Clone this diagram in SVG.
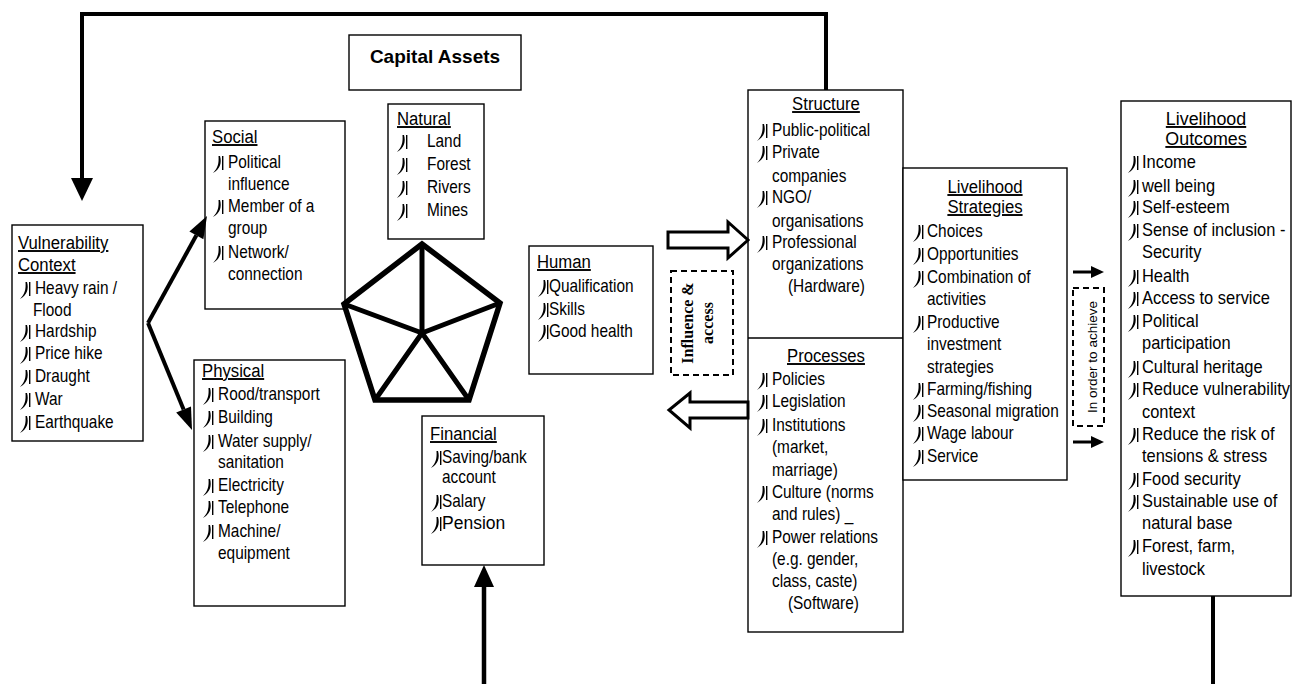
<svg xmlns="http://www.w3.org/2000/svg" width="1294" height="684" viewBox="0 0 1294 684">
<style>
.t{font-family:"Liberation Sans",Arial,sans-serif;font-size:17.5px;fill:#000}
.h{font-size:19px;text-decoration:underline}
.m{text-anchor:middle}
.box{fill:#fff;stroke:#000;stroke-width:1.4}
.dash{fill:#fff;stroke:#000;stroke-width:2;stroke-dasharray:6 4}
.ln{stroke:#000;stroke-width:4;fill:none}
.hol{fill:#fff;stroke:#000;stroke-width:3;stroke-linejoin:miter}
</style>
<defs>
<g id="bl"><path d="M7,-12 C9,-5 7,1 0,5 C5,0 6,-5 5.5,-12 Z" fill="#000"/><rect x="9" y="-12" width="1.4" height="14" fill="#000"/></g>
</defs>

<g id="capital-assets">
<rect class="box" x="349" y="35" width="172" height="55"/>
<text class="t m" x="435" y="63" style="font-weight:bold;font-size:19px">Capital Assets</text>
</g>

<g id="vulnerability">
<rect class="box" x="12" y="225" width="131" height="216"/>
<use href="#bl" x="20" y="294"/><use href="#bl" x="20" y="337"/><use href="#bl" x="20" y="359"/><use href="#bl" x="20" y="382"/><use href="#bl" x="20" y="405"/><use href="#bl" x="20" y="428"/>
<g class="t" transform="translate(18,0) scale(0.88,1)">
<text class="h" x="0" y="249">Vulnerability</text>
<text class="h" x="0" y="271">Context</text>
<text x="19.3" y="294">Heavy rain /</text>
<text x="17" y="316">Flood</text>
<text x="19.3" y="337">Hardship</text>
<text x="19.3" y="359">Price hike</text>
<text x="19.3" y="382">Draught</text>
<text x="19.3" y="405">War</text>
<text x="19.3" y="428">Earthquake</text>
</g>
</g>

<g id="social">
<rect class="box" x="205" y="121" width="140" height="188"/>
<use href="#bl" x="213" y="168"/><use href="#bl" x="213" y="212"/><use href="#bl" x="213" y="258"/>
<g class="t" transform="translate(212,0) scale(0.88,1)">
<text class="h" x="0" y="143">Social</text>
<text x="18.2" y="168">Political</text>
<text x="18.2" y="190">influence</text>
<text x="18.2" y="212">Member of a</text>
<text x="18.2" y="234">group</text>
<text x="18.2" y="258">Network/</text>
<text x="18.2" y="280">connection</text>
</g>
</g>

<g id="physical">
<rect class="box" x="194" y="360" width="151" height="246"/>
<use href="#bl" x="203" y="400"/><use href="#bl" x="203" y="423"/><use href="#bl" x="203" y="447"/><use href="#bl" x="203" y="491"/><use href="#bl" x="203" y="513"/><use href="#bl" x="203" y="537"/>
<g class="t" transform="translate(202,0) scale(0.88,1)">
<text class="h" x="0" y="377">Physical</text>
<text x="18.2" y="400">Rood/transport</text>
<text x="18.2" y="423">Building</text>
<text x="18.2" y="447">Water supply/</text>
<text x="18.2" y="468">sanitation</text>
<text x="18.2" y="491">Electricity</text>
<text x="18.2" y="513">Telephone</text>
<text x="18.2" y="537">Machine/</text>
<text x="18.2" y="559">equipment</text>
</g>
</g>

<g id="natural">
<rect class="box" x="388" y="104" width="96" height="135"/>
<use href="#bl" x="397" y="147"/><use href="#bl" x="397" y="170"/><use href="#bl" x="397" y="193"/><use href="#bl" x="397" y="216"/>
<g class="t" transform="translate(397,0) scale(0.88,1)">
<text class="h" x="0" y="125">Natural</text>
<text x="34.1" y="147">Land</text>
<text x="34.1" y="170">Forest</text>
<text x="34.1" y="193">Rivers</text>
<text x="34.1" y="216">Mines</text>
</g>
</g>

<g id="pentagon">
<polygon points="422,244 500,303 469,400 375,400 344,304" fill="none" stroke="#000" stroke-width="5.5"/>
<path d="M422,333 L422,244 M422,333 L500,303 M422,333 L469,400 M422,333 L375,400 M422,333 L344,304" fill="none" stroke="#000" stroke-width="5"/>
</g>

<g id="human">
<rect class="box" x="529" y="246" width="124" height="128"/>
<use href="#bl" x="538" y="292"/><use href="#bl" x="538" y="315"/><use href="#bl" x="538" y="337"/>
<g class="t" transform="translate(537,0) scale(0.88,1)">
<text class="h" x="0" y="268">Human</text>
<text x="13.6" y="292">Qualification</text>
<text x="13.6" y="315">Skills</text>
<text x="13.6" y="337">Good health</text>
</g>
</g>

<g id="financial">
<rect class="box" x="422" y="416" width="122" height="149"/>
<use href="#bl" x="431" y="463"/><use href="#bl" x="431" y="507"/><use href="#bl" x="431" y="529"/>
<g class="t" transform="translate(430,0) scale(0.88,1)">
<text class="h" x="0" y="440">Financial</text>
<text x="13.6" y="463">Saving/bank</text>
<text x="13.6" y="483">account</text>
<text x="13.6" y="507">Salary</text>
</g>
<text class="t" x="442" y="529">Pension</text>
</g>

<g id="influence-access">
<rect class="dash" x="671" y="271" width="62" height="104"/>
<text transform="translate(693,323) rotate(-90)" text-anchor="middle" style="font-family:'Liberation Serif','Times New Roman',serif;font-weight:bold;font-size:16px">Influence &amp;</text>
<text transform="translate(713,323) rotate(-90)" text-anchor="middle" style="font-family:'Liberation Serif','Times New Roman',serif;font-weight:bold;font-size:16px">access</text>
</g>

<g id="structure-processes">
<rect class="box" x="748" y="90" width="155" height="542"/>
<line x1="748" y1="338" x2="903" y2="338" stroke="#000" stroke-width="1.4"/>
<use href="#bl" x="757" y="136"/><use href="#bl" x="757" y="158"/><use href="#bl" x="757" y="203"/><use href="#bl" x="757" y="248"/>
<use href="#bl" x="757" y="385"/><use href="#bl" x="757" y="407"/><use href="#bl" x="757" y="431"/><use href="#bl" x="757" y="498"/><use href="#bl" x="757" y="543"/>
<g class="t" transform="translate(757,0) scale(0.88,1)">
<text class="h m" x="78.4" y="110">Structure</text>
<text x="17" y="136">Public-political</text>
<text x="17" y="158">Private</text>
<text x="17" y="182">companies</text>
<text x="17" y="203">NGO/</text>
<text x="17" y="227">organisations</text>
<text x="17" y="248">Professional</text>
<text x="17" y="270">organizations</text>
<text x="35.2" y="292">(Hardware)</text>
<text class="h m" x="78.4" y="362">Processes</text>
<text x="17" y="385">Policies</text>
<text x="17" y="407">Legislation</text>
<text x="17" y="431">Institutions</text>
<text x="17" y="453">(market,</text>
<text x="17" y="476">marriage)</text>
<text x="17" y="498">Culture (norms</text>
<text x="17" y="520">and rules) _</text>
<text x="17" y="543">Power relations</text>
<text x="17" y="565">(e.g. gender,</text>
<text x="17" y="587">class, caste)</text>
<text x="35.2" y="609">(Software)</text>
</g>
</g>

<g id="strategies">
<rect class="box" x="903" y="168" width="164" height="312"/>
<use href="#bl" x="913" y="237"/><use href="#bl" x="913" y="260"/><use href="#bl" x="913" y="283"/><use href="#bl" x="913" y="328"/><use href="#bl" x="913" y="395"/><use href="#bl" x="913" y="417"/><use href="#bl" x="913" y="439"/><use href="#bl" x="913" y="462"/>
<g class="t" transform="translate(913,0) scale(0.88,1)">
<text class="h m" x="81.8" y="193">Livelihood</text>
<text class="h m" x="81.8" y="213">Strategies</text>
<text x="15.9" y="237">Choices</text>
<text x="15.9" y="260">Opportunities</text>
<text x="15.9" y="283">Combination of</text>
<text x="15.9" y="305">activities</text>
<text x="15.9" y="328">Productive</text>
<text x="15.9" y="350">investment</text>
<text x="15.9" y="373">strategies</text>
<text x="15.9" y="395">Farming/fishing</text>
<text x="15.9" y="417">Seasonal migration</text>
<text x="15.9" y="439">Wage labour</text>
<text x="15.9" y="462">Service</text>
</g>
</g>

<g id="in-order">
<rect class="dash" x="1073" y="288" width="31" height="138"/>
<text class="t" transform="translate(1097,357) rotate(-90)" text-anchor="middle" style="font-size:13.5px">In order to achieve</text>
</g>

<g id="outcomes">
<rect class="box" x="1121" y="101" width="170" height="495"/>
<use href="#bl" x="1128" y="168"/><use href="#bl" x="1128" y="192"/><use href="#bl" x="1128" y="213"/><use href="#bl" x="1128" y="236"/><use href="#bl" x="1128" y="282"/><use href="#bl" x="1128" y="304"/><use href="#bl" x="1128" y="327"/><use href="#bl" x="1128" y="373"/><use href="#bl" x="1128" y="395"/><use href="#bl" x="1128" y="440"/><use href="#bl" x="1128" y="485"/><use href="#bl" x="1128" y="507"/><use href="#bl" x="1128" y="552"/>
<g class="t" transform="translate(1128,0) scale(0.94,1)">
<text class="h m" x="83" y="125">Livelihood</text>
<text class="h m" x="83" y="145">Outcomes</text>
<text x="14.9" y="168">Income</text>
<text x="14.9" y="192">well being</text>
<text x="14.9" y="213">Self-esteem</text>
<text x="14.9" y="236">Sense of inclusion -</text>
<text x="14.9" y="258">Security</text>
<text x="14.9" y="282">Health</text>
<text x="14.9" y="304">Access to service</text>
<text x="14.9" y="327">Political</text>
<text x="14.9" y="349">participation</text>
<text x="14.9" y="373">Cultural heritage</text>
<text x="14.9" y="395">Reduce vulnerability</text>
<text x="14.9" y="418">context</text>
<text x="14.9" y="440">Reduce the risk of</text>
<text x="14.9" y="462">tensions &amp; stress</text>
<text x="14.9" y="485">Food security</text>
<text x="14.9" y="507">Sustainable use of</text>
<text x="14.9" y="529">natural base</text>
<text x="14.9" y="552">Forest, farm,</text>
<text x="14.9" y="575">livestock</text>
</g>
</g>

<g id="connectors">
<polyline class="ln" points="826,90 826,14 82,14 82,180"/>
<polygon points="71,178 93,178 82,201" fill="#000"/>
<line class="ln" x1="148" y1="323" x2="196.4" y2="235.3"/>
<polygon points="207,216 203.4,239.2 189.4,231.4" fill="#000"/>
<line class="ln" x1="148" y1="323" x2="183.6" y2="409.6"/>
<polygon points="192,430 191,406.6 176.2,412.6" fill="#000"/>
<line class="ln" x1="484" y1="684" x2="484" y2="587" style="stroke-width:4.5"/>
<polygon points="474,587 494,587 484,565" fill="#000"/>
<line class="ln" x1="1213" y1="596" x2="1213" y2="684"/>
<polygon class="hol" points="668,232 728,232 728,222 748,240 728,258 728,248 668,248"/>
<polygon class="hol" points="748,402 690,402 690,393 669,410 690,428 690,418 748,418"/>
<line x1="1073" y1="272" x2="1092" y2="272" stroke="#000" stroke-width="3"/>
<polygon points="1091,266 1091,278 1104,272" fill="#000"/>
<line x1="1073" y1="442" x2="1092" y2="442" stroke="#000" stroke-width="3"/>
<polygon points="1091,436 1091,448 1104,442" fill="#000"/>
</g>
</svg>
